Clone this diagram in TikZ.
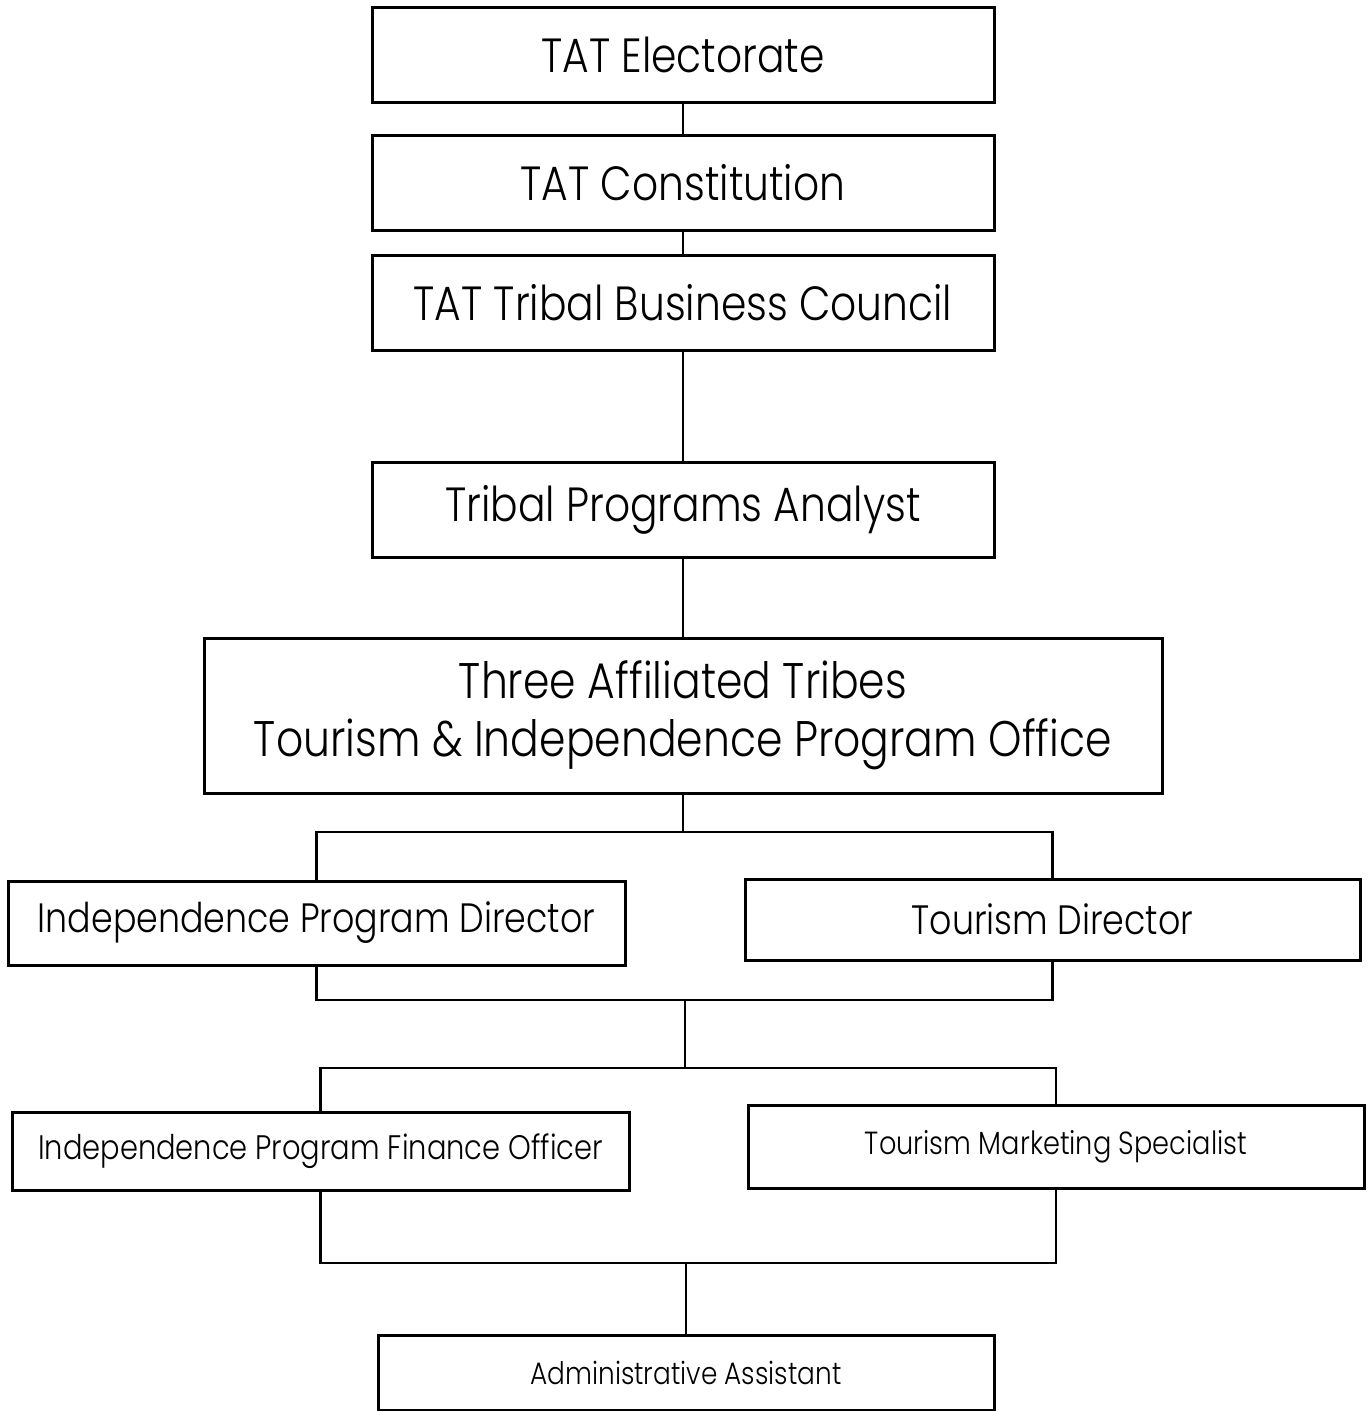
\documentclass[tikz,border=0pt]{standalone}
\usepackage{fontspec}
\setmainfont[FakeStretch=0.85, UprightFont=* Light]{Poppins}
\usepackage{tikz}

\begin{document}
\begin{tikzpicture}[x=1pt, y=-1pt,
        box/.style={draw, line width=3pt, inner sep=0pt, align=center, fill=white},
        link/.style={line width=2.5pt},
        huge/.style={box, font=\fontsize{48}{58}\selectfont},
        mid/.style={box, font=\fontsize{41}{48}\selectfont},
        small/.style={box, font=\fontsize{32}{38}\selectfont}]
        \useasboundingbox (0, 0) rectangle (1368, 1411);

        \node (elect) at (683, 54.5) [huge, minimum width=622pt, minimum height=95pt] {TAT Electorate};
        \node (const) at (683, 182.5) [huge, minimum width=622pt, minimum height=95pt] {TAT Constitution};
        \node (council) at (683, 302.5) [huge, minimum width=622pt, minimum height=95pt] {TAT Tribal Business Council};
        \node (analyst) at (683, 509.5) [huge, minimum width=622pt, minimum height=95pt] {Tribal Programs Analyst};
        \node (office) at (683, 715.5) [huge, font=\fontsize{50}{58}\selectfont, minimum width=958pt, minimum height=155pt] {Three Affiliated Tribes\\Tourism \& Independence Program Office};

        \node (ipd) at (316.5, 923) [mid, minimum width=617pt, minimum height=84pt] {Independence Program Director};
        \node (td) at (1052.5, 919.5) [mid, minimum width=615pt, minimum height=81pt] {Tourism Director};
        \node (ipfo) at (320.5, 1151) [small, font=\fontsize{34}{40}\selectfont, minimum width=617pt, minimum height=78pt] {Independence Program Finance Officer};
        \node (tms) at (1056, 1146.5) [small, minimum width=616pt, minimum height=83pt] {Tourism Marketing Specialist};
        \node (admin) at (686, 1372.5) [small, font=\fontsize{31}{38}\selectfont, minimum width=616pt, minimum height=75pt] {Administrative Assistant};

        \coordinate (j1) at (683, 832);
        \coordinate (j2) at (685, 1000);
        \coordinate (j3) at (685, 1068);
        \coordinate (j4) at (686, 1263);

        \draw[link] (elect) -- (const);
        \draw[link] (const) -- (council);
        \draw[link] (council) -- (analyst);
        \draw[link] (analyst) -- (office);

        \draw[link] (office.south) -- (j1);
        \draw[link] (ipd.north) -- (ipd.north |- j1) -- (td.north |- j1) -- (td.north);
        \draw[link] (ipd.south) -- (ipd.south |- j2) -- (td.south |- j2) -- (td.south);
        \draw[link] (j2) -- (j3);
        \draw[link] (ipfo.north) -- (ipfo.north |- j3) -- (tms.north |- j3) -- (tms.north);
        \draw[link] (ipfo.south) -- (ipfo.south |- j4) -- (tms.south |- j4) -- (tms.south);
        \draw[link] (j4) -- (admin);
    \end{tikzpicture}
\end{document}
